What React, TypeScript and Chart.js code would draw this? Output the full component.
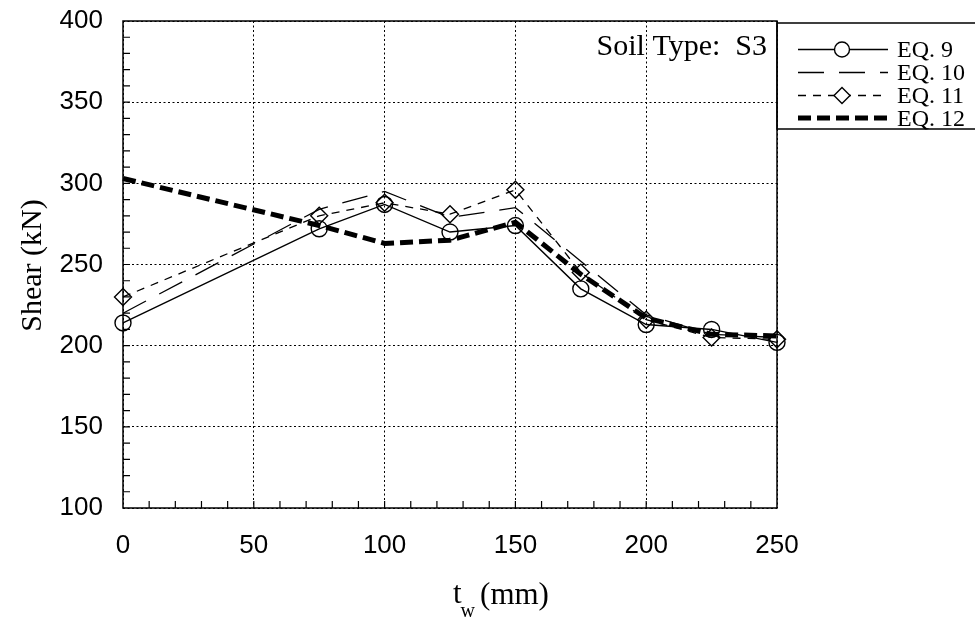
import React, { useEffect, useRef } from 'react';
import { Chart, registerables } from 'chart.js';

Chart.register(...registerables);

// ---- data ----
const tw = [0, 75, 100, 125, 150, 175, 200, 225, 250];
const eq9 = [214, 272, 287, 270, 274, 235, 213, 210, 202];
const eq10 = [220, 284, 295, 279, 285, 252, 219, 207, 205];
const eq11 = [230, 280, 288, 281, 296, 245, 216, 205, 204];
const eq12 = [303, 274, 263, 265, 276, 244, 217, 207, 206];
const seriesLabels = ['EQ. 9', 'EQ. 10', 'EQ. 11', 'EQ. 12'];
const xTicks = [0, 50, 100, 150, 200, 250];
const yTicks = [100, 150, 200, 250, 300, 350, 400];
const annotationText = 'Soil Type:  S3';
const yTitle = 'Shear (kN)';
const xTitleMain = 't';
const xTitleSub = 'w';
const xTitleUnit = '(mm)';

const SERIF = '"Liberation Serif", "Times New Roman", serif';
const SANS = '"Liberation Sans", Arial, sans-serif';

const styles = [
  { dash: [] as number[], width: 1.4, marker: 'circle' },
  { dash: [26, 15], width: 1.3, marker: null },
  { dash: [8, 7], width: 1.3, marker: 'rectRot' },
  { dash: [13, 6], width: 5, marker: null },
];

const decorPlugin = {
  id: 'decor',
  afterDraw(chart: any) {
    const ctx = chart.ctx as CanvasRenderingContext2D;
    const { left, right, top, bottom } = chart.chartArea;
    const xs = chart.scales.x;
    const ys = chart.scales.y;
    ctx.save();
    ctx.strokeStyle = '#000';
    ctx.fillStyle = '#000';
    ctx.setLineDash([]);
    // plot frame
    ctx.lineWidth = 1.5;
    ctx.strokeRect(left, top, right - left, bottom - top);
    // inward minor ticks
    ctx.lineWidth = 1.2;
    ctx.beginPath();
    for (let v = 10; v < 250; v += 10) {
      const px = xs.getPixelForValue(v);
      ctx.moveTo(px, bottom);
      ctx.lineTo(px, bottom - 7);
    }
    for (let v = 110; v < 400; v += 10) {
      const py = ys.getPixelForValue(v);
      ctx.moveTo(left, py);
      ctx.lineTo(left + 7, py);
    }
    ctx.stroke();

    // annotation
    ctx.font = `30px ${SERIF}`;
    ctx.textAlign = 'right';
    ctx.textBaseline = 'alphabetic';
    ctx.fillText(annotationText, right - 10, 55);

    // legend box
    const lx = right;
    ctx.lineWidth = 1.5;
    ctx.strokeRect(lx, 23, 220, 106);
    const rowY = [49.5, 72.5, 95.5, 118];
    const baseY = [57, 80, 103, 125.5];
    ctx.font = `24px ${SERIF}`;
    ctx.textAlign = 'left';
    styles.forEach((s, i) => {
      const y = rowY[i];
      ctx.save();
      ctx.lineWidth = s.width;
      ctx.setLineDash(s.dash);
      ctx.beginPath();
      ctx.moveTo(lx + 21, y);
      ctx.lineTo(lx + 111, y);
      ctx.stroke();
      ctx.restore();
      if (s.marker === 'circle') {
        ctx.save();
        ctx.fillStyle = '#fff';
        ctx.lineWidth = 1.4;
        ctx.beginPath();
        ctx.arc(lx + 65, y, 7.5, 0, Math.PI * 2);
        ctx.fill();
        ctx.stroke();
        ctx.restore();
      } else if (s.marker === 'rectRot') {
        ctx.save();
        ctx.fillStyle = '#fff';
        ctx.lineWidth = 1.4;
        ctx.beginPath();
        const r = 8;
        ctx.moveTo(lx + 65 - r, y);
        ctx.lineTo(lx + 65, y - r);
        ctx.lineTo(lx + 65 + r, y);
        ctx.lineTo(lx + 65, y + r);
        ctx.closePath();
        ctx.fill();
        ctx.stroke();
        ctx.restore();
      }
      ctx.fillText(seriesLabels[i], lx + 120, baseY[i]);
    });

    // y title
    ctx.save();
    ctx.translate(33, (top + bottom) / 2 + 1);
    ctx.rotate(-Math.PI / 2);
    ctx.font = `30px ${SERIF}`;
    ctx.textAlign = 'center';
    ctx.textBaseline = 'middle';
    ctx.fillText(yTitle, 0, 0);
    ctx.restore();

    // x title with subscript
    ctx.textAlign = 'left';
    ctx.textBaseline = 'alphabetic';
    ctx.font = `31px ${SERIF}`;
    const tW = ctx.measureText(xTitleMain).width;
    ctx.font = `20px ${SERIF}`;
    const wW = ctx.measureText(xTitleSub).width;
    const x0 = 453;
    ctx.font = `31px ${SERIF}`;
    ctx.fillText(xTitleMain, x0, 603);
    ctx.font = `20px ${SERIF}`;
    ctx.fillText(xTitleSub, x0 + tW - 1, 617);
    ctx.font = `31px ${SERIF}`;
    ctx.fillText(xTitleUnit, x0 + tW + wW + 4, 604);
    ctx.restore();
  },
};

export default function App() {
  const ref = useRef<HTMLCanvasElement>(null);
  useEffect(() => {
    document.body.style.margin = '0';
    const all = [eq9, eq10, eq11, eq12];
    const datasets = all.map((vals, i) => {
      const s = styles[i];
      return {
        label: seriesLabels[i],
        data: tw.map((x, j) => ({ x, y: vals[j] })),
        borderColor: '#000',
        backgroundColor: 'rgba(0,0,0,0)',
        borderWidth: s.width,
        borderDash: s.dash,
        pointStyle: s.marker || 'circle',
        pointRadius: s.marker ? (s.marker === 'circle' ? 8 : 8.5) : 0,
        pointBorderWidth: 1.4,
        pointBorderColor: '#000',
        pointBackgroundColor: 'rgba(0,0,0,0)',
        tension: 0,
        clip: false as any,
        order: 4 - i,
      };
    });
    const chart = new Chart(ref.current!, {
      type: 'line',
      data: { datasets },
      options: {
        animation: false,
        responsive: true,
        maintainAspectRatio: false,
        layout: { padding: { left: 0, right: 198, top: 21, bottom: 0 } },
        plugins: { legend: { display: false }, tooltip: { enabled: false } },
        scales: {
          x: {
            type: 'linear',
            min: 0,
            max: 250,
            afterBuildTicks: (s: any) => {
              s.ticks = xTicks.map((v) => ({ value: v }));
            },
            afterFit: (s: any) => {
              s.height = 113;
            },
            grid: { color: '#000', lineWidth: 1, drawTicks: false },
            border: { display: false, dash: [2, 2.5] },
            ticks: {
              padding: 22,
              color: '#000',
              font: { family: SANS, size: 26 },
              maxRotation: 0,
            },
          },
          y: {
            type: 'linear',
            min: 100,
            max: 400,
            afterBuildTicks: (s: any) => {
              s.ticks = yTicks.map((v) => ({ value: v }));
            },
            afterFit: (s: any) => {
              s.width = 123;
            },
            grid: { color: '#000', lineWidth: 1, drawTicks: true, tickLength: 16, tickColor: 'rgba(0,0,0,0)' },
            border: { display: false, dash: [2, 2.5] },
            ticks: {
              padding: 4,
              color: '#000',
              font: { family: SANS, size: 26 },
            },
          },
        },
      },
      plugins: [decorPlugin],
    });
    return () => chart.destroy();
  }, []);
  return (
    <div style={{ position: 'absolute', left: 0, top: 0, width: 975, height: 621, background: '#fff' }}>
      <canvas ref={ref} />
    </div>
  );
}
